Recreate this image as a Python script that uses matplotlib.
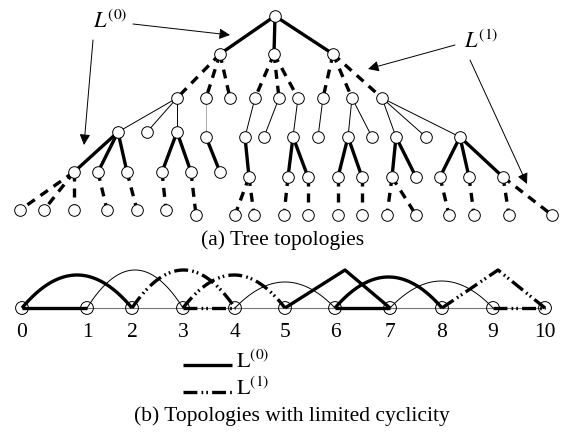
import numpy as np
import matplotlib.pyplot as plt

plt.rcParams['font.family'] = ['Liberation Serif', 'DejaVu Serif']
plt.rcParams['mathtext.fontset'] = 'stix'
plt.rcParams['lines.scale_dashes'] = False

# ---- (a) tree: x, y and parent (index in level above) of every node ----
lvl0_x = [275]
lvl0_y = [16]
lvl1_x = [220, 274, 333]
lvl1_y = [54, 54, 54]
lvl1_parent = [0, 0, 0]
lvl2_x = [177, 206, 230, 255, 279, 298, 323, 352, 382]
lvl2_y = [98, 98, 98, 98, 98, 98, 98, 98, 98]
lvl2_parent = [0, 0, 0, 1, 1, 1, 2, 2, 2]
lvl3_x = [118, 147, 177, 206, 245, 264, 293, 318, 348, 372, 396, 426, 460]
lvl3_y = [132, 132, 132, 137, 137, 137, 137, 137, 137, 137, 137, 137, 137]
lvl3_parent = [0, 0, 0, 1, 3, 4, 5, 6, 7, 7, 8, 8, 8]
lvl4_x = [74, 98, 127, 162, 191, 220, 249, 288, 308, 338, 362, 392, 416, 440, 469, 503]
lvl4_y = [172, 172, 172, 172, 172, 172, 177, 177, 177, 177, 177, 177, 177, 177, 177, 177]
lvl4_parent = [0, 0, 0, 2, 2, 3, 4, 6, 6, 8, 8, 10, 10, 12, 12, 12]
lvl5_x = [20, 44, 74, 107, 137, 166, 196, 235, 254, 284, 308, 338, 362, 387, 416,
          449, 474, 509, 552]
lvl5_y = [210, 210, 210, 210, 210, 210, 215, 215, 215, 215, 215, 215, 215, 215, 215,
          215, 215, 215, 215]
lvl5_parent = [0, 0, 0, 1, 2, 3, 4, 6, 6, 7, 8, 9, 10, 11, 11, 13, 14, 15, 15]
gray_edge = (3, 3)  # level, node index drawn in light gray

# ---- (b) ring with limited cyclicity ----
ring_x = [22, 87, 132, 183, 235, 285, 335, 390, 442, 493, 545]
ring_y = 308
ring_labels = ['0', '1', '2', '3', '4', '5', '6', '7', '8', '9', '10']
l0_arcs = [(0, 2, 33), (6, 8, 31)]          # (from, to, height)
l1_arcs = [(2, 4, 38), (3, 5, 33)]
thin_arcs = [(1, 3, 38), (4, 6, 26), (7, 9, 27)]
l0_straight = [(0, 1), (6, 7)]
l1_straight = [(3, 4), (9, 10)]
l0_peaks = [(5, 7, 345, 270)]               # (from, to, apex x, apex y)
l1_peaks = [(8, 10, 498, 270)]

THICK = 2.4
THIN = 0.7
dashed = dict(color='black', lw=THICK, dashes=(6.5, 5))
dashdot = dict(color='black', lw=THICK, dashes=(10, 3, 1.2, 2.2, 1.2, 3))
solid = dict(color='black', lw=THICK, solid_capstyle='butt')
thin = dict(color='black', lw=THIN)

fig = plt.figure(figsize=(5.65, 4.36), dpi=100)
ax = fig.add_axes([0, 0, 1, 1])
ax.set_xlim(0, 565)
ax.set_ylim(436, 0)
ax.axis('off')

levels = [(lvl0_x, lvl0_y, None), (lvl1_x, lvl1_y, lvl1_parent),
          (lvl2_x, lvl2_y, lvl2_parent), (lvl3_x, lvl3_y, lvl3_parent),
          (lvl4_x, lvl4_y, lvl4_parent), (lvl5_x, lvl5_y, lvl5_parent)]
level_style = {1: solid, 2: dashed, 3: thin, 4: solid, 5: dashed}

for k in range(1, len(levels)):
    xs, ys, par = levels[k]
    px, py, _ = levels[k - 1]
    for i, p in enumerate(par):
        st = dict(level_style[k])
        if (k, i) == gray_edge:
            st['color'] = '#aaaaaa'
        ax.plot([px[p], xs[i]], [py[p], ys[i]], zorder=2, **st)

for xs, ys, _ in levels:
    ax.scatter(xs, ys, s=70, facecolor='white', edgecolor='black', lw=0.7, zorder=3)

# annotations
arrow = dict(arrowstyle='-|>', lw=0.7, color='black', mutation_scale=16,
             shrinkA=0, shrinkB=0)
ax.text(110, 22, r'$L^{(0)}$', fontsize=16, ha='center', va='center')
ax.text(481, 42, r'$L^{(1)}$', fontsize=16, ha='center', va='center')
ax.annotate('', xy=(230, 35), xytext=(133, 24), arrowprops=arrow)
ax.annotate('', xy=(84, 145), xytext=(93, 40), arrowprops=arrow)
ax.annotate('', xy=(368, 69), xytext=(455, 45), arrowprops=arrow)
ax.annotate('', xy=(527, 184), xytext=(470, 60), arrowprops=arrow)
ax.text(283, 240, '(a) Tree topologies', fontsize=15.5, ha='center', va='center')

# ---- draw (b) ----
ax.plot([ring_x[0], ring_x[-1]], [ring_y, ring_y], color='#777777', lw=0.8, zorder=1)


def arc(a, b, h, style):
    t = np.linspace(-1, 1, 60)
    xa, xb = ring_x[a], ring_x[b]
    x = (xa + xb) / 2 + t * (xb - xa) / 2
    y = ring_y - h * (1 - t ** 2)
    ax.plot(x, y, zorder=2, **style)


for a, b, h in thin_arcs:
    arc(a, b, h, thin)
for a, b, h in l0_arcs:
    arc(a, b, h, solid)
for a, b, h in l1_arcs:
    arc(a, b, h, dashdot)
for a, b in l0_straight:
    ax.plot([ring_x[a], ring_x[b]], [ring_y, ring_y], zorder=2, **solid)
for a, b in l1_straight:
    ax.plot([ring_x[a], ring_x[b]], [ring_y, ring_y], zorder=2, **dashdot)
for a, b, xp, yp in l0_peaks:
    ax.plot([ring_x[a], xp, ring_x[b]], [ring_y, yp, ring_y], zorder=2, **solid)
for a, b, xp, yp in l1_peaks:
    ax.plot([ring_x[a], xp, ring_x[b]], [ring_y, yp, ring_y], zorder=2, **dashdot)

ax.scatter(ring_x, [ring_y] * len(ring_x), s=85, facecolor='none',
           edgecolor='black', lw=0.7, zorder=3)
for x, lab in zip(ring_x, ring_labels):
    ax.text(x, 332, lab, fontsize=15.5, ha='center', va='center')

# legend
ax.plot([183, 232], [365, 365], **solid)
ax.plot([183, 232], [392, 392], **dashdot)
ax.text(236, 362, r'$\mathrm{L}^{(0)}$', fontsize=16, ha='left', va='center')
ax.text(236, 389, r'$\mathrm{L}^{(1)}$', fontsize=16, ha='left', va='center')
ax.text(292, 416, '(b) Topologies with limited cyclicity', fontsize=15.5,
        ha='center', va='center')

fig.savefig('out.png', dpi=100)
